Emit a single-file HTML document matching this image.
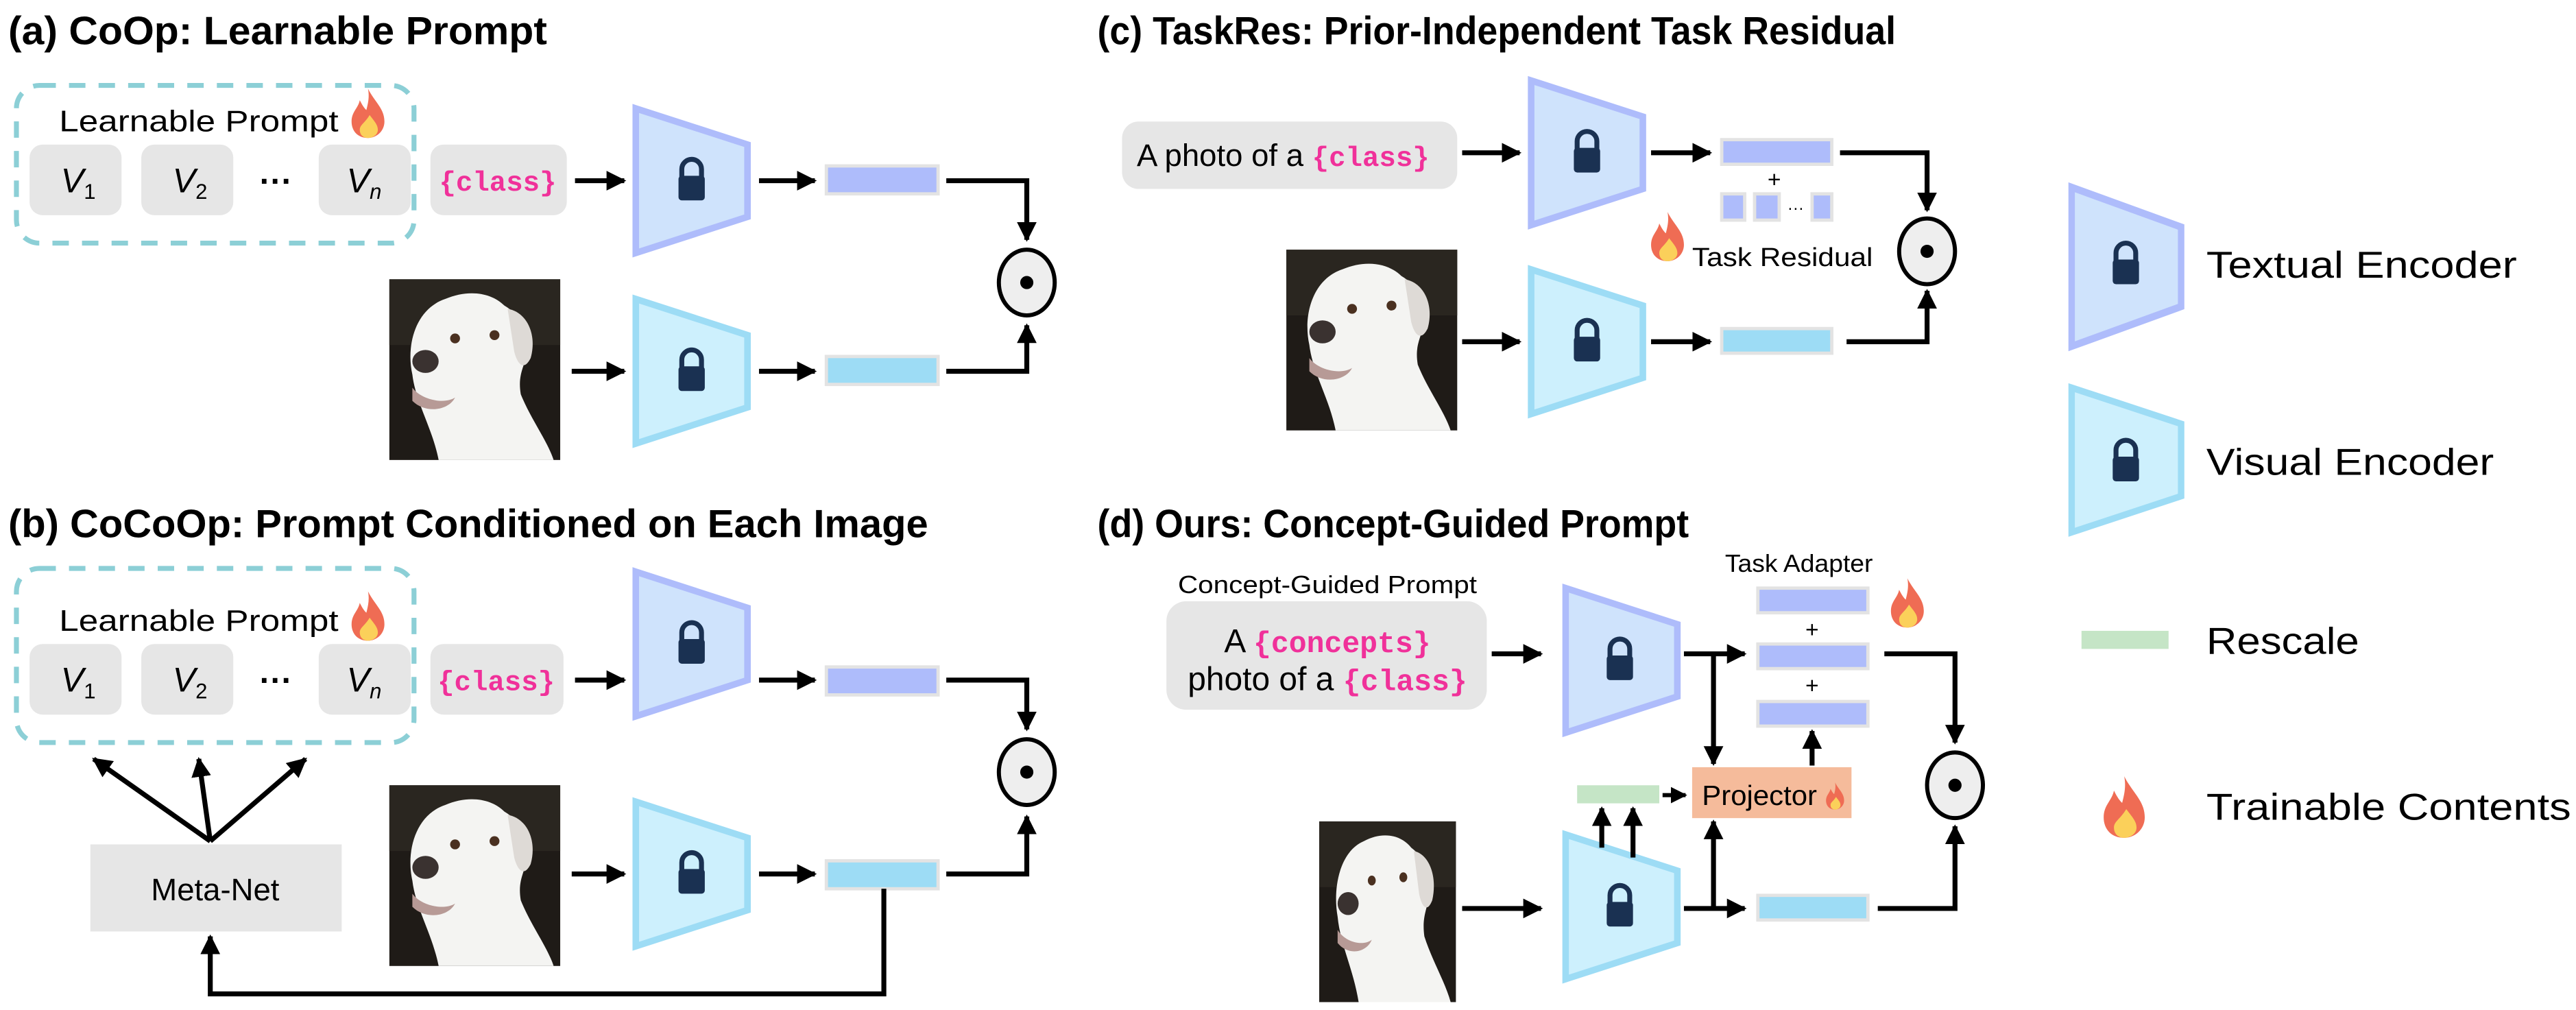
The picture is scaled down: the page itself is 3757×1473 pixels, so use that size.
<!DOCTYPE html>
<html><head><meta charset="utf-8"><style>
html,body{margin:0;padding:0;background:#fff}
svg{display:block}
text{font-family:"Liberation Sans Narrow","Liberation Sans","DejaVu Sans Condensed",sans-serif}
.t{font-size:24px;font-weight:bold}
.m{font-family:"Liberation Mono","DejaVu Sans Mono",monospace;fill:#f0319a;font-weight:bold}
</style></head><body>
<svg width="3757" height="1473" viewBox="0 0 1568 614.8" preserveAspectRatio="none" xmlns="http://www.w3.org/2000/svg">
<defs>
<marker id="ar" viewBox="0 0 10 10" refX="9" refY="5" markerWidth="4" markerHeight="4" orient="auto-start-reverse" markerUnits="strokeWidth"><path d="M0,0 L10,5 L0,10 z" fill="#000"/></marker>
<g id="lock"><path d="M-6,-2 v-5 a6,6 0 0 1 12,0 v5" fill="none" stroke="#1a3152" stroke-width="3"/><rect x="-8" y="-3" width="16" height="15" rx="2" fill="#1a3152"/></g>
<g id="fire"><path d="M0,-14 C4,-6 10,-2 10,6 C10,12 5,16 0,16 C-6,16 -10,12 -10,6 C-10,0 -6,-2 -5,-7 C-3,-3 -2,-2 -1,-1 C0,-5 1,-9 0,-14 z" fill="#ef6c54"/><path d="M1,2 C4,6 6,8 6,11 C6,14 3,16 0,16 C-3,16 -5,14 -5,11 C-5,8 -2,7 1,2 z" fill="#fbd05a"/></g>
<g id="dog"><rect x="0" y="0" width="104" height="110" fill="#1f1b17"/><rect x="0" y="0" width="104" height="40" fill="#2a2620"/>
<path d="M30,110 C26,90 16,75 14,58 C10,40 16,18 34,12 C48,6 62,8 70,16 C80,22 86,32 84,44 C82,54 78,58 80,70 C86,85 96,98 100,110 z" fill="#f4f4f2"/>
<path d="M72,18 C84,20 90,34 86,48 C82,56 78,52 76,44 z" fill="#dedad6"/>
<ellipse cx="22" cy="50" rx="8" ry="7" fill="#3a3230"/><path d="M14,66 C20,74 34,76 40,72 C36,80 22,82 14,74 z" fill="#b79a96"/>
<circle cx="40" cy="36" r="3" fill="#4a3020"/><circle cx="64" cy="34" r="3" fill="#4a3020"/></g>
<g id="tenc"><polygon points="0,0 68,22 68,66 0,88" fill="#cfe3fc" stroke="#aebcfb" stroke-width="4"/></g>
<g id="venc"><polygon points="0,0 68,22 68,66 0,88" fill="#cdf0fd" stroke="#9ddcf5" stroke-width="4"/></g>
</defs>

<!-- (a) -->
<text x="5" y="27" class="t" textLength="328" lengthAdjust="spacingAndGlyphs">(a) CoOp: Learnable Prompt</text>
<rect x="10" y="52" width="242" height="96" rx="14" fill="none" stroke="#8ccfd6" stroke-width="3" stroke-dasharray="10,8"/>
<text x="36" y="80" font-size="18" textLength="170" lengthAdjust="spacingAndGlyphs">Learnable Prompt</text>
<use href="#fire" x="224" y="68"/>
<g fill="#e6e6e6"><rect x="18" y="88" width="56" height="43" rx="8"/><rect x="86" y="88" width="56" height="43" rx="8"/><rect x="194" y="88" width="56" height="43" rx="8"/><rect x="262" y="88" width="83" height="43" rx="8"/></g>
<g font-family="Liberation Serif,serif" font-style="italic" font-size="21"><text x="37" y="117">V<tspan font-size="13" font-style="normal" dy="4">1</tspan></text><text x="105" y="117">V<tspan font-size="13" font-style="normal" dy="4">2</tspan></text><text x="211" y="117">V<tspan font-size="13" dy="4">n</tspan></text></g>
<text x="168" y="117" font-size="20" font-weight="bold" text-anchor="middle">···</text>
<text x="303" y="116" class="m" font-size="17" text-anchor="middle">{class}</text>
<use href="#tenc" x="387" y="66"/><use href="#lock" x="421" y="110"/>
<use href="#dog" x="237" y="170"/>
<use href="#venc" x="387" y="182"/><use href="#lock" x="421" y="226"/>
<rect x="503" y="101" width="68" height="17" fill="#aebcfb" stroke="#e3e3e3" stroke-width="2"/>
<rect x="503" y="217" width="68" height="17" fill="#9ddcf5" stroke="#e3e3e3" stroke-width="2"/>
<ellipse cx="625" cy="172" rx="17" ry="20" fill="#eee" stroke="#000" stroke-width="2.5"/><circle cx="625" cy="172" r="4"/>
<g stroke="#000" stroke-width="3" fill="none" marker-end="url(#ar)">
<line x1="350" y1="110" x2="380" y2="110"/><line x1="462" y1="110" x2="496" y2="110"/>
<polyline points="576,110 625,110 625,146"/>
<line x1="348" y1="226" x2="380" y2="226"/><line x1="462" y1="226" x2="496" y2="226"/>
<polyline points="576,226 625,226 625,198"/>
</g>

<!-- (b) -->
<text x="5" y="327" class="t" textLength="560" lengthAdjust="spacingAndGlyphs">(b) CoCoOp: Prompt Conditioned on Each Image</text>
<rect x="10" y="346" width="242" height="106" rx="14" fill="none" stroke="#8ccfd6" stroke-width="3" stroke-dasharray="10,8"/>
<text x="36" y="384" font-size="18" textLength="170" lengthAdjust="spacingAndGlyphs">Learnable Prompt</text>
<use href="#fire" x="224" y="374"/>
<g fill="#e6e6e6"><rect x="18" y="392" width="56" height="43" rx="8"/><rect x="86" y="392" width="56" height="43" rx="8"/><rect x="194" y="392" width="56" height="43" rx="8"/><rect x="262" y="392" width="81" height="43" rx="8"/></g>
<g font-family="Liberation Serif,serif" font-style="italic" font-size="21"><text x="37" y="421">V<tspan font-size="13" font-style="normal" dy="4">1</tspan></text><text x="105" y="421">V<tspan font-size="13" font-style="normal" dy="4">2</tspan></text><text x="211" y="421">V<tspan font-size="13" dy="4">n</tspan></text></g>
<text x="168" y="421" font-size="20" font-weight="bold" text-anchor="middle">···</text>
<text x="302" y="420" class="m" font-size="17" text-anchor="middle">{class}</text>
<use href="#tenc" x="387" y="348"/><use href="#lock" x="421" y="392"/>
<use href="#dog" x="237" y="478"/>
<use href="#venc" x="387" y="488"/><use href="#lock" x="421" y="532"/>
<rect x="503" y="406" width="68" height="17" fill="#aebcfb" stroke="#e3e3e3" stroke-width="2"/>
<rect x="503" y="524" width="68" height="17" fill="#9ddcf5" stroke="#e3e3e3" stroke-width="2"/>
<ellipse cx="625" cy="470" rx="17" ry="20" fill="#eee" stroke="#000" stroke-width="2.5"/><circle cx="625" cy="470" r="4"/>
<rect x="55" y="514" width="153" height="53" fill="#e6e6e6"/>
<text x="131" y="548" font-size="19" text-anchor="middle">Meta-Net</text>
<g stroke="#000" stroke-width="3" fill="none" marker-end="url(#ar)">
<line x1="350" y1="414" x2="380" y2="414"/><line x1="462" y1="414" x2="496" y2="414"/>
<polyline points="576,414 625,414 625,444"/>
<line x1="348" y1="532" x2="380" y2="532"/><line x1="462" y1="532" x2="496" y2="532"/>
<polyline points="576,532 625,532 625,497"/>
<line x1="128" y1="512" x2="57" y2="462"/><line x1="128" y1="512" x2="121" y2="462"/><line x1="128" y1="512" x2="186" y2="462"/>
<polyline points="538,541 538,605 128,605 128,570"/>
</g>

<!-- (c) -->
<text x="668" y="27" class="t" textLength="486" lengthAdjust="spacingAndGlyphs">(c) TaskRes: Prior-Independent Task Residual</text>
<rect x="683" y="74" width="204" height="41" rx="10" fill="#e6e6e6"/>
<text x="692" y="101" font-size="19">A photo of a <tspan class="m" font-size="17">{class}</tspan></text>
<use href="#tenc" x="932" y="49"/><use href="#lock" x="966" y="93"/>
<rect x="1048" y="85" width="67" height="15" fill="#aebcfb" stroke="#e3e3e3" stroke-width="2"/>
<text x="1080" y="114" font-size="14" text-anchor="middle">+</text>
<g fill="#aebcfb" stroke="#e3e3e3" stroke-width="2"><rect x="1048" y="118" width="14" height="16"/><rect x="1068" y="118" width="15" height="16"/><rect x="1103" y="118" width="12" height="16"/></g>
<text x="1093" y="130" font-size="10" text-anchor="middle">···</text>
<use href="#fire" x="1015" y="143"/>
<text x="1030" y="162" font-size="16" textLength="110" lengthAdjust="spacingAndGlyphs">Task Residual</text>
<use href="#dog" x="783" y="152"/>
<use href="#venc" x="932" y="164"/><use href="#lock" x="966" y="208"/>
<rect x="1048" y="200" width="67" height="15" fill="#9ddcf5" stroke="#e3e3e3" stroke-width="2"/>
<ellipse cx="1173" cy="153" rx="17" ry="20" fill="#eee" stroke="#000" stroke-width="2.5"/><circle cx="1173" cy="153" r="4"/>
<g stroke="#000" stroke-width="3" fill="none" marker-end="url(#ar)">
<line x1="890" y1="93" x2="925" y2="93"/><line x1="1005" y1="93" x2="1041" y2="93"/>
<polyline points="1120,93 1173,93 1173,128"/>
<line x1="890" y1="208" x2="925" y2="208"/><line x1="1005" y1="208" x2="1041" y2="208"/>
<polyline points="1124,208 1173,208 1173,177"/>
</g>

<!-- (d) -->
<text x="668" y="327" class="t" textLength="360" lengthAdjust="spacingAndGlyphs">(d) Ours: Concept-Guided Prompt</text>
<text x="717" y="361" font-size="15" textLength="182" lengthAdjust="spacingAndGlyphs">Concept-Guided Prompt</text>
<rect x="710" y="366" width="195" height="66" rx="12" fill="#e6e6e6"/>
<text x="808" y="397" font-size="20" text-anchor="middle">A <tspan class="m" font-size="18">{concepts}</tspan></text>
<text x="808" y="420" font-size="20" text-anchor="middle">photo of a <tspan class="m" font-size="18">{class}</tspan></text>
<use href="#tenc" x="953" y="358"/><use href="#lock" x="986" y="402"/>
<text x="1050" y="348" font-size="15" textLength="90" lengthAdjust="spacingAndGlyphs">Task Adapter</text>
<use href="#fire" x="1161" y="366"/>
<g fill="#aebcfb" stroke="#e3e3e3" stroke-width="2"><rect x="1070" y="358" width="67" height="15"/><rect x="1070" y="392" width="67" height="15"/><rect x="1070" y="427" width="67" height="15"/></g>
<text x="1103" y="388" font-size="14" text-anchor="middle">+</text><text x="1103" y="422" font-size="14" text-anchor="middle">+</text>
<rect x="1030" y="467" width="97" height="31" fill="#f5bb9b"/>
<text x="1036" y="490" font-size="17" textLength="70" lengthAdjust="spacingAndGlyphs">Projector</text>
<g transform="translate(1117,484) scale(0.55)"><use href="#fire"/></g>
<rect x="960" y="478" width="50" height="11" fill="#c5e5c6"/>
<use href="#dog" transform="translate(803,500) scale(0.8,1)"/>
<use href="#venc" x="953" y="508"/><use href="#lock" x="986" y="552"/>
<rect x="1070" y="545" width="67" height="15" fill="#9ddcf5" stroke="#e3e3e3" stroke-width="2"/>
<ellipse cx="1190" cy="478" rx="17" ry="20" fill="#eee" stroke="#000" stroke-width="2.5"/><circle cx="1190" cy="478" r="4"/>
<g stroke="#000" stroke-width="3" fill="none" marker-end="url(#ar)">
<line x1="908" y1="398" x2="938" y2="398"/><line x1="1025" y1="398" x2="1062" y2="398"/>
<line x1="1043" y1="398" x2="1043" y2="465"/>
<line x1="1103" y1="466" x2="1103" y2="445"/>
<line x1="975" y1="516" x2="975" y2="492"/><line x1="994" y1="522" x2="994" y2="492"/>
<line x1="1012" y1="484" x2="1026" y2="484" stroke-width="2.5"/>
<line x1="890" y1="553" x2="938" y2="553"/><line x1="1025" y1="553" x2="1062" y2="553"/>
<line x1="1043" y1="553" x2="1043" y2="500"/>
<polyline points="1147,398 1190,398 1190,452"/>
<polyline points="1143,553 1190,553 1190,503"/>
</g>

<!-- legend -->
<g transform="translate(1261,114) scale(0.98,1.1)"><use href="#tenc"/></g><use href="#lock" x="1294" y="161"/>
<text x="1343" y="169" font-size="23" textLength="189" lengthAdjust="spacingAndGlyphs">Textual Encoder</text>
<g transform="translate(1261,236) scale(0.98,1.0)"><use href="#venc"/></g><use href="#lock" x="1294" y="281"/>
<text x="1343" y="289" font-size="23" textLength="175" lengthAdjust="spacingAndGlyphs">Visual Encoder</text>
<rect x="1267" y="384" width="53" height="11" fill="#c5e5c6"/>
<text x="1343" y="398" font-size="23" textLength="93" lengthAdjust="spacingAndGlyphs">Rescale</text>
<g transform="translate(1293,490) scale(1.25)"><use href="#fire"/></g>
<text x="1343" y="499" font-size="23" textLength="222" lengthAdjust="spacingAndGlyphs">Trainable Contents</text>
</svg>
</body></html>
